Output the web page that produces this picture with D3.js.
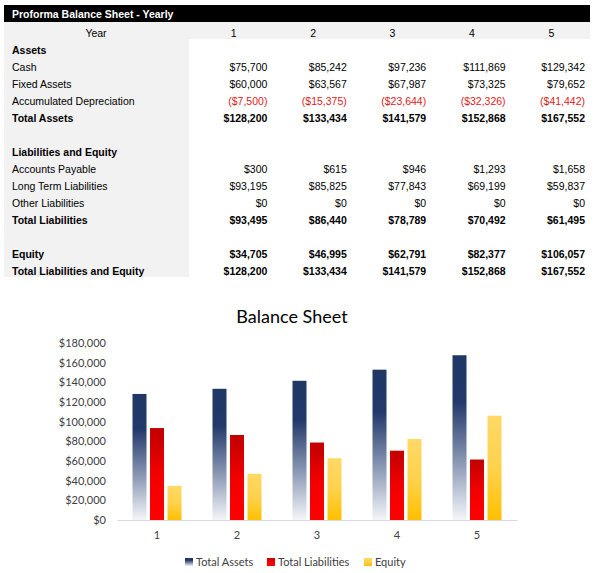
<!DOCTYPE html>
<html>
<head>
<meta charset="utf-8">
<script src="https://cdn.jsdelivr.net/npm/d3@7"></script>
<style>
  html, body { margin: 0; padding: 0; background: #fff; }
  svg { display: block; }
</style>
</head>
<body>
<div id="chart"></div>
<script>
// table data
const years = [1, 2, 3, 4, 5];
const cash = [75700, 85242, 97236, 111869, 129342];
const fixedAssets = [60000, 63567, 67987, 73325, 79652];
const accumDepreciation = [-7500, -15375, -23644, -32326, -41442];
const totalAssets = [128200, 133434, 141579, 152868, 167552];
const accountsPayable = [300, 615, 946, 1293, 1658];
const longTermLiabilities = [93195, 85825, 77843, 69199, 59837];
const otherLiabilities = [0, 0, 0, 0, 0];
const totalLiabilities = [93495, 86440, 78789, 70492, 61495];
const equity = [34705, 46995, 62791, 82377, 106057];
const totalLiabEquity = [128200, 133434, 141579, 152868, 167552];

// chart series
const seriesNames = ["Total Assets", "Total Liabilities", "Equity"];
const yTicks = [0, 20000, 40000, 60000, 80000, 100000, 120000, 140000, 160000, 180000];

const W = 599, H = 573;
const svg = d3.select("#chart").append("svg")
  .attr("width", W)
  .attr("height", H);

const fmt = d3.format("$,.0f");
const money = v => v < 0 ? "(" + fmt(-v) + ")" : fmt(v);

// ---------- table ----------
const rows = [
  { label: "Year", header: true },
  { label: "Assets", bold: true },
  { label: "Cash", values: cash },
  { label: "Fixed Assets", values: fixedAssets },
  { label: "Accumulated Depreciation", values: accumDepreciation },
  { label: "Total Assets", values: totalAssets, bold: true },
  { label: "" },
  { label: "Liabilities and Equity", bold: true },
  { label: "Accounts Payable", values: accountsPayable },
  { label: "Long Term Liabilities", values: longTermLiabilities },
  { label: "Other Liabilities", values: otherLiabilities },
  { label: "Total Liabilities", values: totalLiabilities, bold: true },
  { label: "" },
  { label: "Equity", values: equity, bold: true },
  { label: "Total Liabilities and Equity", values: totalLiabEquity, bold: true }
];

const rowY = d3.scaleBand()
  .domain(d3.range(rows.length))
  .range([22, 22 + 17 * rows.length]);
const colX = d3.scaleBand()
  .domain(years)
  .range([192, 589]);

const table = svg.append("g")
  .attr("font-family", "Liberation Sans, Arial, sans-serif")
  .attr("font-size", "10.5px");

// title bar
table.append("rect")
  .attr("x", 4).attr("y", 5)
  .attr("width", 586).attr("height", 17)
  .attr("fill", "#000");
table.append("text")
  .attr("x", 12).attr("y", 18)
  .attr("fill", "#fff")
  .attr("font-weight", "bold")
  .text("Proforma Balance Sheet - Yearly");

// grey label column + year row
table.append("rect")
  .attr("x", 4).attr("y", rowY(0))
  .attr("width", 185).attr("height", rowY.step() * rows.length)
  .attr("fill", "#f2f2f2");
table.append("rect")
  .attr("x", 4).attr("y", rowY(0))
  .attr("width", 586).attr("height", rowY.step())
  .attr("fill", "#f2f2f2");

const rowG = table.selectAll(".row")
  .data(rows)
  .enter().append("g")
  .attr("class", "row")
  .attr("transform", (d, i) => `translate(0,${rowY(i) + 14.5})`);

rowG.append("text")
  .attr("x", d => d.header ? 96 : 12)
  .attr("text-anchor", d => d.header ? "middle" : "start")
  .attr("font-weight", d => d.bold ? "bold" : "normal")
  .attr("fill", "#000")
  .text(d => d.label);

// year headers
rowG.filter(d => d.header)
  .selectAll(".yr")
  .data(years)
  .enter().append("text")
  .attr("x", d => colX(d) + colX.bandwidth() / 2 + 2)
  .attr("text-anchor", "middle")
  .text(d => d);

// values
rowG.filter(d => d.values)
  .selectAll(".val")
  .data(d => d.values.map((v, i) => ({ v, yr: years[i], bold: d.bold })))
  .enter().append("text")
  .attr("x", d => colX(d.yr) + colX.bandwidth() - 4)
  .attr("text-anchor", "end")
  .attr("font-weight", d => d.bold ? "bold" : "normal")
  .attr("fill", d => d.v < 0 ? "#e02020" : "#000")
  .text(d => money(d.v));

// ---------- chart ----------
const defs = svg.append("defs");
const grads = [
  { id: "gAssets", stops: [[0, "#1f3864"], [0.28, "#22396a"], [0.65, "#8a98b4"], [1, "#f4f5f8"]] },
  { id: "gLiab", stops: [[0, "#c00000"], [0.5, "#f20000"], [1, "#ff0000"]] },
  { id: "gEquity", stops: [[0, "#ffd966"], [0.5, "#ffd24d"], [1, "#ffc000"]] }
];
grads.forEach(g => {
  const lg = defs.append("linearGradient")
    .attr("id", g.id)
    .attr("x1", 0).attr("y1", 0).attr("x2", 0).attr("y2", 1);
  g.stops.forEach(s => lg.append("stop").attr("offset", s[0]).attr("stop-color", s[1]));
});
const fills = ["url(#gAssets)", "url(#gLiab)", "url(#gEquity)"];
const seriesData = [totalAssets, totalLiabilities, equity];

const chartFont = "Lato, 'Open Sans', sans-serif";

svg.append("text")
  .attr("x", 292).attr("y", 323)
  .attr("text-anchor", "middle")
  .attr("font-family", chartFont)
  .attr("font-size", "18px")
  .attr("fill", "#000")
  .text("Balance Sheet");

const x = d3.scaleBand().domain(years).range([117, 517]);
const xs = d3.scaleBand().domain(seriesNames).range([-24.5, 24.5]).paddingInner(0.2);
const y = d3.scaleLinear().domain([0, 180000]).range([520, 343]);

const yAxis = svg.append("g")
  .attr("transform", "translate(106,0)")
  .call(d3.axisLeft(y).tickValues(yTicks).tickFormat(fmt).tickSize(0).tickPadding(0));
yAxis.select(".domain").remove();
yAxis.selectAll("text")
  .attr("font-family", chartFont)
  .attr("font-size", "11px")
  .attr("fill", "#404040");

const groups = svg.selectAll(".grp")
  .data(years)
  .enter().append("g")
  .attr("transform", d => `translate(${x(d) + x.bandwidth() / 2},0)`);

groups.selectAll("rect")
  .data((yr, i) => seriesNames.map((s, k) => ({ s, k, v: seriesData[k][i] })))
  .enter().append("rect")
  .attr("x", d => xs(d.s))
  .attr("width", xs.bandwidth())
  .attr("y", d => y(d.v))
  .attr("height", d => y(0) - y(d.v))
  .attr("fill", d => fills[d.k]);

const xAxis = svg.append("g")
  .attr("transform", `translate(0,${y(0)})`)
  .call(d3.axisBottom(x).tickSize(0).tickPadding(11));
xAxis.select(".domain").attr("stroke", "#d9d9d9").attr("stroke-width", 1);
xAxis.selectAll("text")
  .attr("font-family", chartFont)
  .attr("font-size", "11px")
  .attr("fill", "#404040");

// legend
const legendX = [185, 267, 364];
const legend = svg.selectAll(".lg")
  .data(seriesNames)
  .enter().append("g")
  .attr("transform", (d, i) => `translate(${legendX[i]},558)`);
legend.append("rect")
  .attr("width", 8).attr("height", 8)
  .attr("fill", (d, i) => fills[i]);
legend.append("text")
  .attr("x", 11).attr("y", 8)
  .attr("font-family", chartFont)
  .attr("font-size", "11px")
  .attr("fill", "#404040")
  .text(d => d);
</script>
</body>
</html>
